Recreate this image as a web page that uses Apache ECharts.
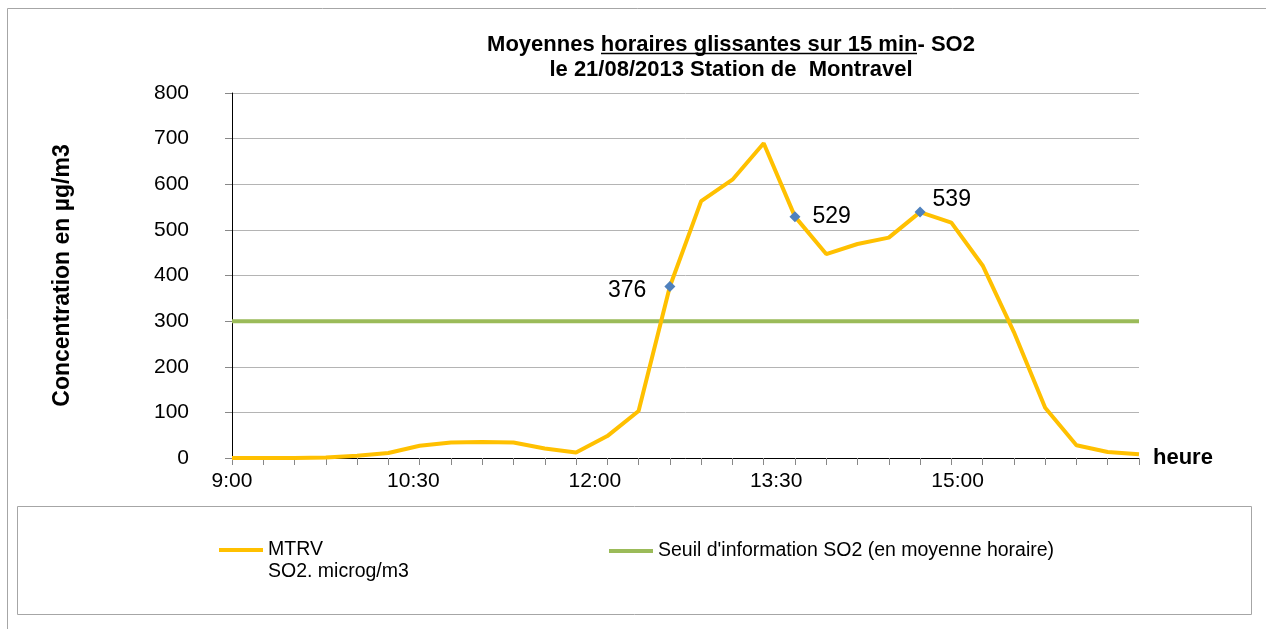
<!DOCTYPE html>
<html>
<head>
<meta charset="utf-8">
<script src="https://cdn.jsdelivr.net/npm/echarts@6/dist/echarts.min.js"></script>
<style>
  html, body { margin: 0; padding: 0; background: #fff; }
  #main { width: 1266px; height: 629px; }
</style>
</head>
<body>
<div id="main"></div>
<script>
// heures des moyennes glissantes (pas de 15 min)
var heures = ['9:00','9:15','9:30','9:45','10:00','10:15','10:30','10:45','11:00','11:15',
              '11:30','11:45','12:00','12:15','12:30','12:45','13:00','13:15','13:30','13:45',
              '14:00','14:15','14:30','14:45','15:00','15:15','15:30','15:45','16:00','16:15'];
// MTRV SO2 en microg/m3
var mtrv = [0, 0, 0, 1, 5, 11, 27, 34, 35, 34,
            21, 12, 48, 103, 376, 563, 610, 690, 529, 447,
            469, 483, 539, 516, 422, 276, 110, 28, 13, 8];
// seuil d'information (moyenne horaire)
var seuil = [300, 300, 300, 300, 300, 300, 300, 300, 300, 300,
             300, 300, 300, 300, 300, 300, 300, 300, 300, 300,
             300, 300, 300, 300, 300, 300, 300, 300, 300, 300];
// points annotes
var pointsMarques = ['12:30', '13:30', '14:30'];
// libelles de l'axe horizontal (toutes les 1h30)
var xTickLabels = ['9:00', '10:30', '12:00', '13:30', '15:00', '16:30'];
var yTicks = [0, 100, 200, 300, 400, 500, 600, 700, 800];

var nomMtrv = 'MTRV\nSO2. microg/m3';
var nomSeuil = "Seuil d'information SO2 (en moyenne horaire)";

var police = "'Liberation Sans', Arial, sans-serif";
var mychart = echarts.init(document.getElementById('main'));

var labelPos = {
    '12:30': { position: 'left', distance: 18, offset: [0, 4] },
    '13:30': { position: 'right', distance: 12, offset: [0, 0] },
    '14:30': { position: 'right', distance: 7, offset: [0, -12] }
};

var mtrvData = [];
for (var i = 0; i < mtrv.length; i++) {
    var h = heures[i];
    if (pointsMarques.indexOf(h) >= 0) {
        mtrvData.push({
            value: mtrv[i],
            symbol: 'diamond',
            symbolSize: 11,
            itemStyle: { color: '#4F81BD' },
            label: {
                show: true,
                position: labelPos[h].position,
                distance: labelPos[h].distance,
                offset: labelPos[h].offset,
                color: '#000',
                fontFamily: police,
                fontSize: 23
            }
        });
    } else {
        mtrvData.push({ value: mtrv[i], symbol: 'none' });
    }
}

mychart.setOption({
    animation: false,
    textStyle: { fontFamily: police },
    title: {
        text: 'Moyennes horaires glissantes sur 15 min- SO2\nle 21/08/2013 Station de  Montravel',
        left: 726,
        top: 27,
        textAlign: 'center',
        textStyle: { fontFamily: police, fontSize: 22, fontWeight: 'bold', color: '#000', lineHeight: 25 }
    },
    graphic: [
        { type: 'rect', shape: { x: 7.5, y: 8.5, width: 1300, height: 700 },
          style: { fill: 'none', stroke: '#a6a6a6', lineWidth: 1 }, silent: true },
        { type: 'rect', shape: { x: 17.5, y: 506.5, width: 1234, height: 108 },
          style: { fill: 'none', stroke: '#a6a6a6', lineWidth: 1 }, silent: true },
        // soulignement du titre
        { type: 'line', shape: { x1: 601, y1: 53.5, x2: 917, y2: 53.5 },
          style: { stroke: '#000', lineWidth: 1.5 }, silent: true }
    ],
    legend: [
        {
            data: [nomMtrv],
            left: 219,
            top: 518,
            padding: 0,
            itemWidth: 44,
            itemHeight: 4,
            icon: 'rect',
            formatter: function (name) {
                var l = name.split('\n');
                return '{e| }\n{a|' + l[0] + '}\n{a|' + l[1] + '}';
            },
            textStyle: {
                fontFamily: police, fontSize: 19.5, color: '#000',
                rich: {
                    e: { fontSize: 19.5, lineHeight: 22 },
                    a: { fontFamily: police, fontSize: 19.5, color: '#000', lineHeight: 22 }
                }
            }
        },
        {
            data: [nomSeuil],
            left: 609,
            top: 540,
            padding: 0,
            itemWidth: 44,
            itemHeight: 4,
            icon: 'rect',
            textStyle: { fontFamily: police, fontSize: 19.5, color: '#000', lineHeight: 22 }
        }
    ],
    grid: { left: 232, top: 93, width: 907, height: 365 },
    xAxis: [
        {
            type: 'category',
            data: heures,
            boundaryGap: false,
            position: 'bottom',
            name: 'heure',
            nameLocation: 'end',
            nameGap: 14,
            nameTextStyle: { fontFamily: police, fontSize: 22, fontWeight: 'bold', color: '#000' },
            axisLine: { lineStyle: { color: '#000', width: 1 } },
            axisTick: { show: true, interval: 0, length: 7, lineStyle: { color: '#888' } },
            axisLabel: { show: false },
            splitLine: { show: false }
        },
        {
            type: 'value',
            min: 0,
            max: 450,
            interval: 90,
            position: 'bottom',
            axisLine: { show: false },
            axisTick: { show: false },
            splitLine: { show: false },
            axisLabel: {
                margin: 13,
                showMaxLabel: false,
                fontFamily: police,
                fontSize: 21,
                color: '#000',
                formatter: function (v) { return xTickLabels[Math.round(v / 90)]; }
            }
        }
    ],
    yAxis: {
        type: 'value',
        min: yTicks[0],
        max: yTicks[yTicks.length - 1],
        interval: 100,
        name: 'Concentration en µg/m3',
        nameLocation: 'middle',
        nameRotate: 90,
        nameGap: 158,
        nameTextStyle: { fontFamily: police, fontSize: 23, fontWeight: 'bold', color: '#000' },
        axisLine: { show: true, lineStyle: { color: '#000', width: 1 } },
        axisTick: { show: true, length: 7, lineStyle: { color: '#888' } },
        axisLabel: { margin: 43, fontFamily: police, fontSize: 21, color: '#000' },
        splitLine: { lineStyle: { color: '#b4b4b4', width: 1 } }
    },
    series: [
        {
            name: nomMtrv,
            type: 'line',
            xAxisIndex: 0,
            data: mtrvData,
            color: '#FFC000',
            lineStyle: { width: 4, color: '#FFC000' },
            z: 3
        },
        {
            name: nomSeuil,
            type: 'line',
            xAxisIndex: 0,
            data: seuil,
            symbol: 'none',
            color: '#9BBB59',
            lineStyle: { width: 4, color: '#9BBB59' },
            z: 2
        }
    ]
});
</script>
</body>
</html>
